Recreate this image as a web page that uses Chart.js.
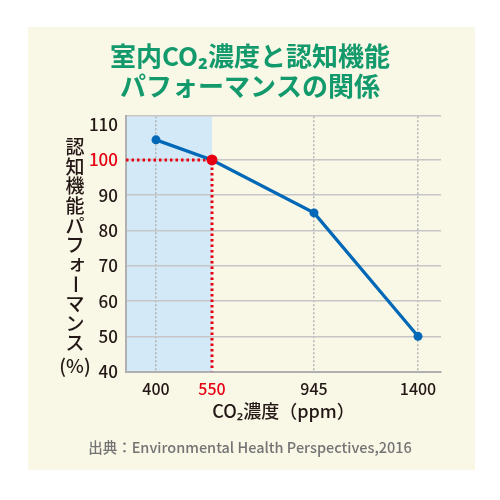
<!DOCTYPE html>
<html lang="ja">
<head>
<meta charset="utf-8">
<script src="https://cdn.jsdelivr.net/npm/chart.js@4.4.1/dist/chart.umd.min.js"></script>
<style>
  html, body { margin: 0; padding: 0; background: #fff; }
  #wrap { width: 500px; height: 500px; }
</style>
</head>
<body>
<div id="wrap"><canvas id="chart" width="500" height="500"></canvas></div>
<script>
// data
const ppmLabels = ["400", "550", "945", "1400"];
// the original x axis is schematic, not to scale: slot position of each label
const axisSlots = [30, 86, 188, 292];
const axisSlotMax = 315;
const performance = [105.7, 100, 85, 50];
const yTicks = [40, 50, 60, 70, 80, 90, 100, 110];
const yMax = 112.4;
const baselineIndex = 1; // 550 ppm
const baselineValue = 100;

const titleLines = ["室内CO₂濃度と認知機能", "パフォーマンスの関係"];
const yLabel = "認知機能パフォーマンス";
const yUnit = "(%)";
const xLabel = "CO₂濃度（ppm）";
const source = "出典：Environmental Health Perspectives,2016";

const GREEN = "#12996c";
const BLUE = "#0068b7";
const RED = "#e60012";
const INK = "#231815";
const CREAM = "#f9f7e6";
const BAND = "#d3e9f8";

Chart.defaults.font.family = '"Noto Sans CJK JP", "Noto Sans", sans-serif';

// cream panel + shaded band up to the baseline ppm
const backdrop = {
  id: "backdrop",
  beforeDraw(chart) {
    const { ctx, chartArea, scales } = chart;
    ctx.save();
    ctx.fillStyle = CREAM;
    ctx.fillRect(28, 27, 447, 443);
    const xEnd = scales.x.getPixelForValue(axisSlots[baselineIndex]);
    ctx.fillStyle = BAND;
    ctx.fillRect(chartArea.left, chartArea.top, xEnd - chartArea.left, chartArea.bottom - chartArea.top);
    ctx.restore();
  },
};

// vertical japanese y-axis label
const verticalLabel = {
  id: "verticalLabel",
  afterDraw(chart) {
    const { ctx } = chart;
    const x = 75;
    const step = 19.6;
    ctx.save();
    ctx.fillStyle = INK;
    ctx.font = '500 19px "Noto Sans CJK JP", sans-serif';
    ctx.textAlign = "center";
    ctx.textBaseline = "middle";
    [...yLabel].forEach((ch, i) => {
      const y = 147 + i * step;
      if (ch === "ー") {
        ctx.save();
        ctx.translate(x, y);
        ctx.rotate(Math.PI / 2);
        ctx.fillText(ch, 0, 0);
        ctx.restore();
      } else if (ch === "ォ") {
        ctx.fillText(ch, x + 2, y - 2);
      } else {
        ctx.fillText(ch, x, y);
      }
    });
    ctx.fillText(yUnit, x, 366);
    ctx.restore();
  },
};

new Chart(document.getElementById("chart"), {
  type: "line",
  data: {
    datasets: [
      {
        data: axisSlots.map((x, i) => ({ x, y: performance[i] })),
        borderColor: BLUE,
        borderWidth: 3.2,
        pointRadius: performance.map((v, i) => (i === baselineIndex ? 5.5 : 4.5)),
        pointBackgroundColor: performance.map((v, i) => (i === baselineIndex ? RED : BLUE)),
        pointBorderWidth: 0,
        tension: 0,
      },
      {
        data: [
          { x: 0, y: baselineValue },
          { x: axisSlots[baselineIndex], y: baselineValue },
          { x: axisSlots[baselineIndex], y: yTicks[0] },
        ],
        borderColor: RED,
        borderWidth: 3,
        borderDash: [2.5, 3],
        pointRadius: 0,
      },
    ],
  },
  options: {
    responsive: false,
    animation: false,
    layout: { padding: { left: 59, right: 59, top: 0, bottom: 0 } },
    plugins: {
      legend: { display: false },
      tooltip: { enabled: false },
      title: {
        display: true,
        text: titleLines,
        color: GREEN,
        font: { size: 26, weight: "bold", lineHeight: 1.12 },
        padding: { top: 42, bottom: 16 },
      },
      subtitle: {
        display: true,
        position: "bottom",
        text: source,
        color: "#747474",
        font: { size: 14.5, weight: 500, lineHeight: 1.2 },
        padding: { top: 10, bottom: 44 },
      },
    },
    scales: {
      x: {
        type: "linear",
        min: 0,
        max: axisSlotMax,
        afterBuildTicks: (axis) => { axis.ticks = axisSlots.map((v) => ({ value: v })); },
        afterFit: (axis) => { axis.height = 57; },
        ticks: {
          padding: 8,
          font: { size: 16, weight: 500 },
          color: (c) => (c.index === baselineIndex ? RED : INK),
          callback: (v, i) => ppmLabels[i],
        },
        grid: {
          drawTicks: false,
          lineWidth: 1.5,
          color: (c) => (c.index === baselineIndex ? "rgba(0,0,0,0)" : "#b4b4b4"),
        },
        border: { display: true, color: "#b0b0b0", width: 2, dash: [2, 2] },
        title: {
          display: true,
          text: xLabel,
          color: INK,
          font: { size: 18, weight: 500, lineHeight: 1.2 },
          padding: { top: 0, bottom: 7 },
        },
      },
      y: {
        min: yTicks[0],
        max: yMax,
        afterBuildTicks: (axis) => { axis.ticks = yTicks.concat([yMax]).map((v) => ({ value: v })); },
        afterFit: (axis) => { axis.width = 67; },
        ticks: {
          padding: 8,
          font: { size: 17, weight: 500 },
          color: (c) => (c.tick.value === baselineValue ? RED : INK),
          callback: (v) => (yTicks.includes(v) ? String(v) : ""),
        },
        grid: {
          drawTicks: false,
          lineWidth: 1.5,
          color: (c) => (c.tick.value === 110 ? "rgba(0,0,0,0)" : "#c6c6c6"),
        },
        border: { display: true, color: "#b0b0b0", width: 2 },
      },
    },
  },
  plugins: [backdrop, verticalLabel],
});
</script>
</body>
</html>
